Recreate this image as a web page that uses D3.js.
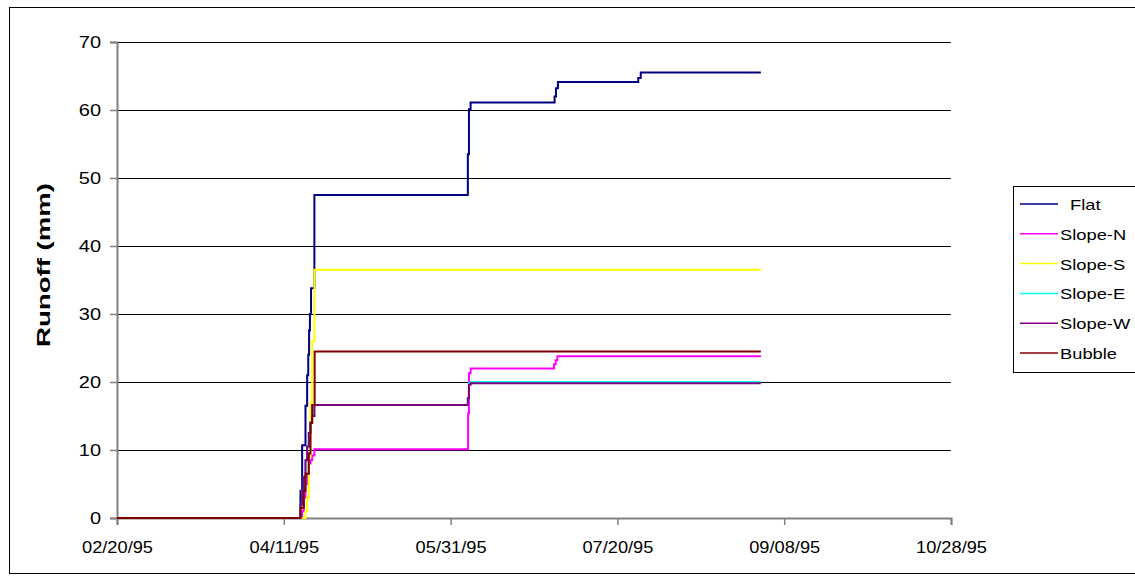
<!DOCTYPE html>
<html><head><meta charset="utf-8">
<script src="https://cdn.jsdelivr.net/npm/d3@7/dist/d3.min.js"></script>
<style>body{margin:0;background:#fff}svg{display:block}text{font-family:"Liberation Sans",Arial,sans-serif}</style>
</head><body><svg id="c" width="1135" height="582"></svg>
<script>
const seriesNames = ["Flat","Slope-N","Slope-S","Slope-E","Slope-W","Bubble"];
const seriesColors = ["#000080","#FF00FF","#FFFF00","#00FFFF","#800080","#800000"];
const xTickLabels = ["02/20/95","04/11/95","05/31/95","07/20/95","09/08/95","10/28/95"];
const yTicks = [0,10,20,30,40,50,60,70];

const flatData = [["02/20/95 00:00",0],["04/16/95 00:00",4],["04/16/95 12:00",10.7],["04/17/95 12:00",16.5],["04/18/95 00:00",21],["04/18/95 08:00",24],["04/18/95 14:00",27.6],["04/18/95 20:00",30],["04/19/95 04:00",33.8],["04/20/95 04:00",47.5],["06/05/95 04:00",53.5],["06/05/95 12:00",60.1],["06/06/95 00:00",61.1],["07/01/95 04:00",62],["07/01/95 14:00",63.2],["07/02/95 04:00",64.1],["07/26/95 06:00",64.7],["07/27/95 00:00",65.5],["09/01/95 00:00",65.5]];
const slopeNData = [["02/20/95 00:00",0],["04/16/95 12:00",1],["04/17/95 00:00",3],["04/17/95 12:00",5],["04/18/95 00:00",6.5],["04/18/95 12:00",8],["04/19/95 00:00",8.5],["04/19/95 12:00",9.2],["04/20/95 04:00",10.1],["06/05/95 06:00",15.4],["06/05/95 12:00",21.3],["06/06/95 00:00",22.0],["07/01/95 00:00",22.6],["07/01/95 12:00",23.2],["07/02/95 00:00",23.8],["09/01/95 00:00",23.8]];
const slopeSData = [["02/20/95 00:00",0],["04/17/95 12:00",1],["04/18/95 00:00",3],["04/18/95 12:00",9],["04/19/95 00:00",17],["04/19/95 12:00",26],["04/20/95 04:00",36.5],["09/01/95 00:00",36.5]];
const slopeEData = [["02/20/95 00:00",0],["04/16/95 00:00",2],["04/16/95 12:00",4],["04/17/95 00:00",6],["04/17/95 12:00",8.5],["04/18/95 00:00",10.5],["04/18/95 12:00",12.5],["04/19/95 00:00",14],["04/19/95 12:00",15],["04/20/95 04:00",16.6],["06/05/95 04:00",17.6],["06/05/95 12:00",19.8],["06/06/95 00:00",20.0],["09/01/95 00:00",20.0]];
const slopeWData = [["02/20/95 00:00",0],["04/16/95 00:00",2],["04/16/95 12:00",4],["04/17/95 00:00",6],["04/17/95 12:00",8.5],["04/18/95 00:00",10.5],["04/18/95 12:00",12.5],["04/19/95 00:00",14],["04/19/95 12:00",15],["04/20/95 04:00",16.6],["06/05/95 04:00",17.6],["06/05/95 12:00",19.6],["06/06/95 00:00",19.8],["09/01/95 00:00",19.8]];
const bubbleData = [["02/20/95 00:00",0],["04/16/95 00:00",1.5],["04/17/95 00:00",4],["04/17/95 12:00",6.5],["04/18/95 12:00",9.5],["04/19/95 00:00",14],["04/19/95 12:00",16.6],["04/20/95 06:00",24.5],["09/01/95 00:00",24.5]];
const allData = [flatData, slopeNData, slopeSData, slopeEData, slopeWData, bubbleData];

const parseDT = d3.timeParse("%m/%d/%y %H:%M");
const parseD = d3.timeParse("%m/%d/%y");
const svg = d3.select("#c");
const L = 117, R = 951, T = 42, B = 518;

function widen(sel, k){
  sel.each(function(){
    const w = this.getComputedTextLength();
    d3.select(this).attr("textLength", w*k).attr("lengthAdjust","spacingAndGlyphs");
  });
}

svg.append("rect").attr("x",9.5).attr("y",7.5).attr("width",1140).attr("height",566)
  .attr("fill","none").attr("stroke","#000").attr("stroke-width",1);

const tickDates = xTickLabels.map(parseD);
const x = d3.scaleTime().domain([tickDates[0], tickDates[tickDates.length-1]]).range([L, R]);
const y = d3.scaleLinear().domain([0,70]).range([B, T]);

// gridlines
svg.append("g").selectAll("line").data(yTicks.filter(v=>v>0)).join("line")
  .attr("x1",L).attr("x2",R).attr("y1",d=>Math.round(y(d))+0.5).attr("y2",d=>Math.round(y(d))+0.5)
  .attr("stroke","#000").attr("stroke-width",1);

// axes
const yAxis = svg.append("g").attr("transform",`translate(${L},0)`)
  .call(d3.axisLeft(y).tickValues(yTicks).tickSize(7).tickPadding(16));
const xAxis = svg.append("g").attr("transform",`translate(0,${B})`)
  .call(d3.axisBottom(x).tickValues(tickDates).tickFormat((d,i)=>xTickLabels[i]).tickSize(7).tickPadding(17));
[yAxis,xAxis].forEach(g=>{
  g.select(".domain").attr("stroke","#808080").attr("stroke-width",2);
  g.selectAll(".tick line").attr("stroke","#808080").attr("stroke-width",1.5);
  g.selectAll("text").attr("font-size",16).attr("fill","#000").attr("font-family","Liberation Sans, Arial, sans-serif");
});
widen(xAxis.selectAll("text"), 1.14);
widen(yAxis.selectAll("text"), 1.25);
yAxis.selectAll("text").attr("text-anchor","end").attr("x",-16);

// series
const line = d3.line().x(d=>x(parseDT(d[0]))).y(d=>y(d[1])).curve(d3.curveStepAfter);
svg.append("g").selectAll("path").data(allData).join("path")
  .attr("d",line).attr("fill","none")
  .attr("stroke",(d,i)=>seriesColors[i]).attr("stroke-width",2);

// y title
svg.append("text").attr("transform",`translate(50,265) rotate(-90)`)
  .attr("text-anchor","middle").attr("font-size",18).attr("font-weight","bold")
  .attr("textLength",164).attr("lengthAdjust","spacingAndGlyphs")
  .text("Runoff (mm)");

// legend
const lg = svg.append("g");
lg.append("rect").attr("x",1013.5).attr("y",186.5).attr("width",140).attr("height",186)
  .attr("fill","#fff").attr("stroke","#000").attr("stroke-width",1);
const items = lg.selectAll("g.it").data(seriesNames).join("g").attr("class","it")
  .attr("transform",(d,i)=>`translate(0,${204 + i*29.8})`);
items.append("line").attr("x1",1020).attr("x2",1058).attr("y1",0).attr("y2",0)
  .attr("stroke",(d,i)=>seriesColors[i]).attr("stroke-width",1.5);
const lt = items.append("text").attr("x",(d,i)=>i===0?1070:1060).attr("y",6).attr("font-size",15)
  .text(d=>d);
widen(lt, 1.22);
</script></body></html>
